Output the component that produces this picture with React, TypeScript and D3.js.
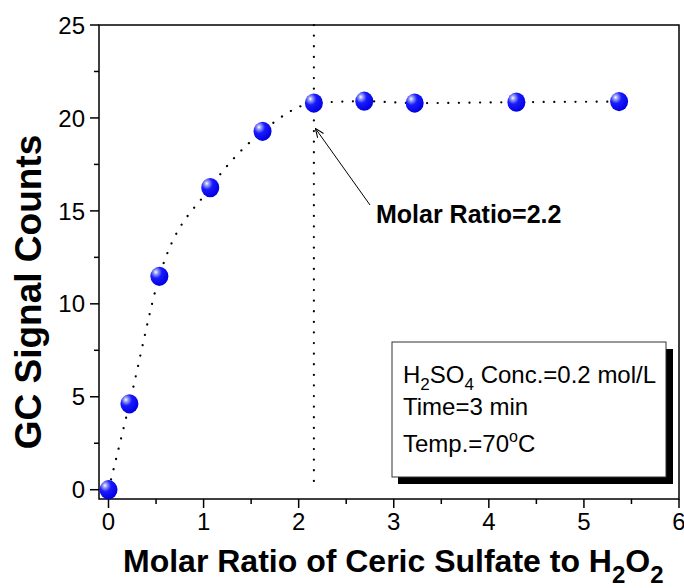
import * as d3 from "d3";

// data
const ratio = [0, 0.22, 0.535, 1.07, 1.62, 2.16, 2.69, 3.22, 4.29, 5.37];
const counts = [0, 4.62, 11.48, 16.25, 19.28, 20.8, 20.9, 20.8, 20.85, 20.88];
const xTicks = [0, 1, 2, 3, 4, 5, 6];
const yTicks = [0, 5, 10, 15, 20, 25];
const breakRatio = 2.16;

const width = 684;
const height = 588;
const marginLeft = 99;
const marginRight = 5;
const marginTop = 25;
const marginBottom = 89;
const font = "'Liberation Sans', Arial, sans-serif";

export default function App() {
  const x = d3.scaleLinear([-0.1, 6], [marginLeft, width - marginRight]);
  const y = d3.scaleLinear([-0.5, 25], [height - marginBottom, marginTop]);
  const pts = ratio.map((r, i) => [r, counts[i]] as [number, number]);
  const line = d3
    .line<[number, number]>((d) => x(d[0]), (d) => y(d[1]))
    .curve(d3.curveMonotoneX);

  const xMinor = d3.range(0.5, 6, 1);
  const yMinor = d3.range(2.5, 25, 5);
  const bottom = height - marginBottom;

  return (
    <svg width={width} height={height} style={{ display: "block", position: "absolute", left: 0, top: 0 }} fontFamily={font}>
      <defs>
        <radialGradient id="ball" cx="0.35" cy="0.3" r="0.7" fx="0.3" fy="0.28">
          <stop offset="0" stopColor="#ffffff" />
          <stop offset="0.15" stopColor="#9fa8f0" />
          <stop offset="0.45" stopColor="#1a1aff" />
          <stop offset="1" stopColor="#0000e0" />
        </radialGradient>
        <marker id="arrow" viewBox="0 0 10 10" refX="9" refY="5" markerWidth="9" markerHeight="9" orient="auto-start-reverse" markerUnits="userSpaceOnUse">
          <path d="M0,1 L10,5 L0,9" fill="none" stroke="#000" strokeWidth="1.2" />
        </marker>
      </defs>
      <rect width={width} height={height} fill="#fff" />

      {/* frame */}
      <rect x={marginLeft} y={marginTop} width={width - marginRight - marginLeft} height={bottom - marginTop} fill="none" stroke="#000" strokeWidth={1.5} />

      {/* y ticks */}
      {yTicks.map((t) => (
        <g key={"y" + t}>
          <line x1={marginLeft - 9} x2={marginLeft} y1={y(t)} y2={y(t)} stroke="#000" strokeWidth={1.5} />
          <text x={marginLeft - 14} y={y(t)} dy="0.36em" textAnchor="end" fontSize={24}>{t}</text>
        </g>
      ))}
      {yMinor.map((t) => (
        <line key={"ym" + t} x1={marginLeft - 5} x2={marginLeft} y1={y(t)} y2={y(t)} stroke="#000" strokeWidth={1.5} />
      ))}

      {/* x ticks */}
      {xTicks.map((t) => (
        <g key={"x" + t}>
          <line x1={x(t)} x2={x(t)} y1={bottom} y2={bottom + 9} stroke="#000" strokeWidth={1.5} />
          <text x={x(t)} y={bottom + 31} textAnchor="middle" fontSize={24}>{t}</text>
        </g>
      ))}
      {xMinor.map((t) => (
        <line key={"xm" + t} x1={x(t)} x2={x(t)} y1={bottom} y2={bottom + 5} stroke="#000" strokeWidth={1.5} />
      ))}

      {/* vertical dotted marker */}
      <line x1={x(breakRatio)} x2={x(breakRatio)} y1={marginTop} y2={y(0)} stroke="#000" strokeWidth={2.2} strokeDasharray="0.1 10.5" strokeLinecap="round" />

      {/* dotted fit curve */}
      <path d={line(pts)!} fill="none" stroke="#000" strokeWidth={2.2} strokeDasharray="0.1 10.5" strokeLinecap="round" />

      {/* points */}
      {pts.map((d, i) => (
        <ellipse key={i} cx={x(d[0])} cy={y(d[1])} rx={9} ry={9.6} fill="url(#ball)" />
      ))}

      {/* annotation */}
      <line x1={370} y1={205} x2={x(breakRatio) + 2} y2={y(20.8) + 26} stroke="#000" strokeWidth={1} markerEnd="url(#arrow)" />
      <text x={376} y={223} fontSize={25} fontWeight="bold">Molar Ratio=2.2</text>

      {/* info box */}
      <rect x={398} y={349} width={275} height={135} fill="#000" />
      <rect x={392} y={342} width={274} height={135} fill="#fff" stroke="#333" strokeWidth={1} />
      <text x={403} y={383} fontSize={24}>
        H<tspan fontSize={17} dy={7}>2</tspan>
        <tspan dy={-7}>SO</tspan>
        <tspan fontSize={17} dy={7}>4</tspan>
        <tspan dy={-7}> Conc.=0.2 mol/L</tspan>
      </text>
      <text x={403} y={415} fontSize={24}>Time=3 min</text>
      <text x={403} y={452} fontSize={24}>
        Temp.=70<tspan fontSize={16} dy={-10}>o</tspan>
        <tspan dy={10}>C</tspan>
      </text>

      {/* axis titles */}
      <text transform={`translate(41,292) rotate(-90)`} textAnchor="middle" fontSize={37} fontWeight="bold">
        GC Signal Counts
      </text>
      <text x={123} y={572} fontSize={32} fontWeight="bold">
        Molar Ratio of Ceric Sulfate to H<tspan fontSize={24} dy={11}>2</tspan>
        <tspan dy={-11}>O</tspan>
        <tspan fontSize={24} dy={11}>2</tspan>
      </text>
    </svg>
  );
}
